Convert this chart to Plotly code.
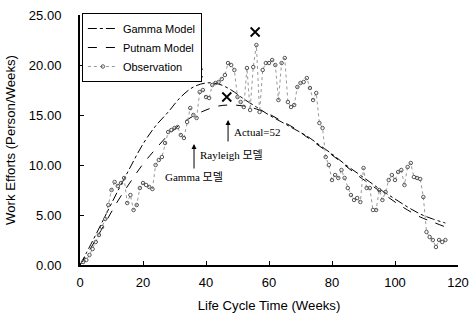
import plotly.graph_objects as go

# Model curves
model_weeks = [0, 4, 8, 12, 16, 20, 24, 28, 32, 36, 40, 44, 48, 52, 56, 60, 64, 68,
               72, 76, 80, 84, 88, 92, 96, 100, 104, 108, 112, 116]
gamma_vals = [0.0, 2.4, 4.9, 7.4, 9.8, 12.1, 13.9, 15.3, 16.8, 17.8, 18.2, 18.1, 17.5,
              16.6, 15.8, 15.0, 14.3, 13.6, 12.9, 12.0, 11.1, 10.1, 9.2, 8.3, 7.4, 6.6,
              5.8, 5.1, 4.6, 4.2]
putnam_vals = [0.0, 2.0, 4.2, 6.4, 8.3, 10.1, 11.6, 13.0, 14.1, 14.9, 15.5, 15.9, 16.0,
               15.9, 15.6, 15.1, 14.4, 13.7, 12.8, 11.9, 11.0, 10.0, 9.0, 8.1, 7.2, 6.3,
               5.5, 4.8, 4.3, 3.8]

# Observations (week 1..116)
obs_weeks = list(range(1, 117))
obs_vals = [0.3, 0.5, 1.0, 1.6, 2.3, 3.0, 3.8, 4.6, 6.0, 7.5,
            8.3, 7.9, 8.2, 8.7, 6.2, 7.0, 5.5, 6.0, 7.7, 8.2,
            8.0, 7.8, 7.6, 10.0, 10.5, 10.8, 12.2, 13.3, 13.5, 13.7,
            13.8, 13.0, 12.7, 14.3, 15.7, 15.0, 14.7, 17.3, 17.5, 16.8,
            16.7, 18.0, 18.2, 18.3, 18.6, 19.0, 20.2, 20.0, 19.5, 16.8,
            16.3, 15.8, 19.7, 15.5, 19.8, 22.0, 15.3, 19.5, 20.2, 20.2,
            20.5, 20.0, 16.5, 20.2, 20.7, 16.3, 15.8, 16.0, 17.8, 18.2,
            18.3, 18.7, 17.7, 16.5, 17.2, 14.2, 13.7, 10.8, 10.0, 8.5,
            9.0, 8.7, 9.5, 8.7, 7.7, 7.0, 6.5, 6.7, 6.3, 9.7,
            7.7, 7.7, 5.5, 5.5, 7.5, 6.5, 7.3, 8.5, 9.0, 8.5,
            9.3, 9.5, 8.0, 9.8, 10.2, 8.8, 8.7, 8.6, 6.8, 3.3,
            2.8, 2.5, 1.8, 2.5, 2.3, 2.5]

# Cross markers
cross_x = [37.4, 46.6, 55.6]
cross_y = [19.2, 16.8, 23.3]

serif = "Liberation Serif, Noto Sans CJK KR, serif"
sans = "Liberation Sans, Arial, sans-serif"

fig = go.Figure()
fig.add_trace(go.Scatter(x=model_weeks, y=gamma_vals, name="Gamma Model", mode="lines",
                         line=dict(color="black", width=1, dash="dashdot", shape="spline")))
fig.add_trace(go.Scatter(x=model_weeks, y=putnam_vals, name="Putnam Model", mode="lines",
                         line=dict(color="black", width=1, dash="dash", shape="spline")))
fig.add_trace(go.Scatter(x=obs_weeks, y=obs_vals, name="Observation", mode="lines+markers",
                         line=dict(color="#999999", width=1, dash="dot"),
                         marker=dict(symbol="circle-open", size=3.5, color="#555555",
                                     line=dict(width=1, color="#555555"))))
fig.add_trace(go.Scatter(x=cross_x, y=cross_y, mode="markers", showlegend=False,
                         marker=dict(symbol="x-thin", size=9, color="black",
                                     line=dict(width=1.8, color="black"))))

# Arrows
fig.add_annotation(x=47.0, y=14.5, ax=47.0, ay=12.2, xref="x", yref="y", axref="x", ayref="y",
                   text="", showarrow=True, arrowhead=2, arrowsize=1, arrowwidth=1,
                   arrowcolor="black")
fig.add_annotation(x=36.2, y=12.1, ax=36.2, ay=9.5, xref="x", yref="y", axref="x", ayref="y",
                   text="", showarrow=True, arrowhead=2, arrowsize=1, arrowwidth=1,
                   arrowcolor="black")
# Labels
fig.add_annotation(x=48.3, y=13.3, text="Actual=52", showarrow=False, xanchor="left",
                   yanchor="middle", font=dict(family=serif, size=11, color="black"))
fig.add_annotation(x=37.4, y=11.0, text="Rayleigh 모델", showarrow=False, xanchor="left",
                   yanchor="middle", font=dict(family=serif, size=11, color="black"))
fig.add_annotation(x=26.2, y=8.8, text="Gamma 모델", showarrow=False, xanchor="left",
                   yanchor="middle", font=dict(family=serif, size=11, color="black"))

fig.update_layout(
    width=471, height=314,
    margin=dict(l=80, r=13, t=15, b=49),
    paper_bgcolor="white", plot_bgcolor="white",
    font=dict(family=sans, color="black"),
    legend=dict(x=0.005, y=1.008, xanchor="left", yanchor="top",
                bordercolor="black", borderwidth=1, bgcolor="white",
                font=dict(family=sans, size=11, color="black"),
                tracegroupgap=0, itemwidth=30, entrywidth=100, entrywidthmode="pixels"),
)
fig.update_xaxes(range=[0, 120], tickvals=[0, 20, 40, 60, 80, 100, 120],
                 automargin=False, ticklabeloverflow="allow",
                 showgrid=False, zeroline=False, showline=True, linecolor="black",
                 linewidth=2, ticks="inside", ticklen=4, tickcolor="black",
                 ticklabelstandoff=4,
                 tickfont=dict(family=sans, size=13, color="black"),
                 title=dict(text="Life Cycle Time (Weeks)", standoff=12,
                            font=dict(family=sans, size=13.2, color="black")))
fig.update_yaxes(range=[0, 25], tickvals=[0, 5, 10, 15, 20, 25], tickformat=".2f",
                 automargin=False, ticklabeloverflow="allow",
                 showgrid=False, zeroline=False, showline=True, linecolor="black",
                 linewidth=2, ticks="inside", ticklen=4, tickcolor="black",
                 ticklabelstandoff=14,
                 tickfont=dict(family=sans, size=13, color="black"),
                 title=dict(text="Work Efforts (Person/Weeks)", standoff=10,
                            font=dict(family=sans, size=13.2, color="black")))

# remove the page's default body margin so the figure fills the window exactly
fig.write_html("out.html", config={"displayModeBar": False},
               post_script="document.body.style.margin='0';document.body.style.overflow='hidden';")
